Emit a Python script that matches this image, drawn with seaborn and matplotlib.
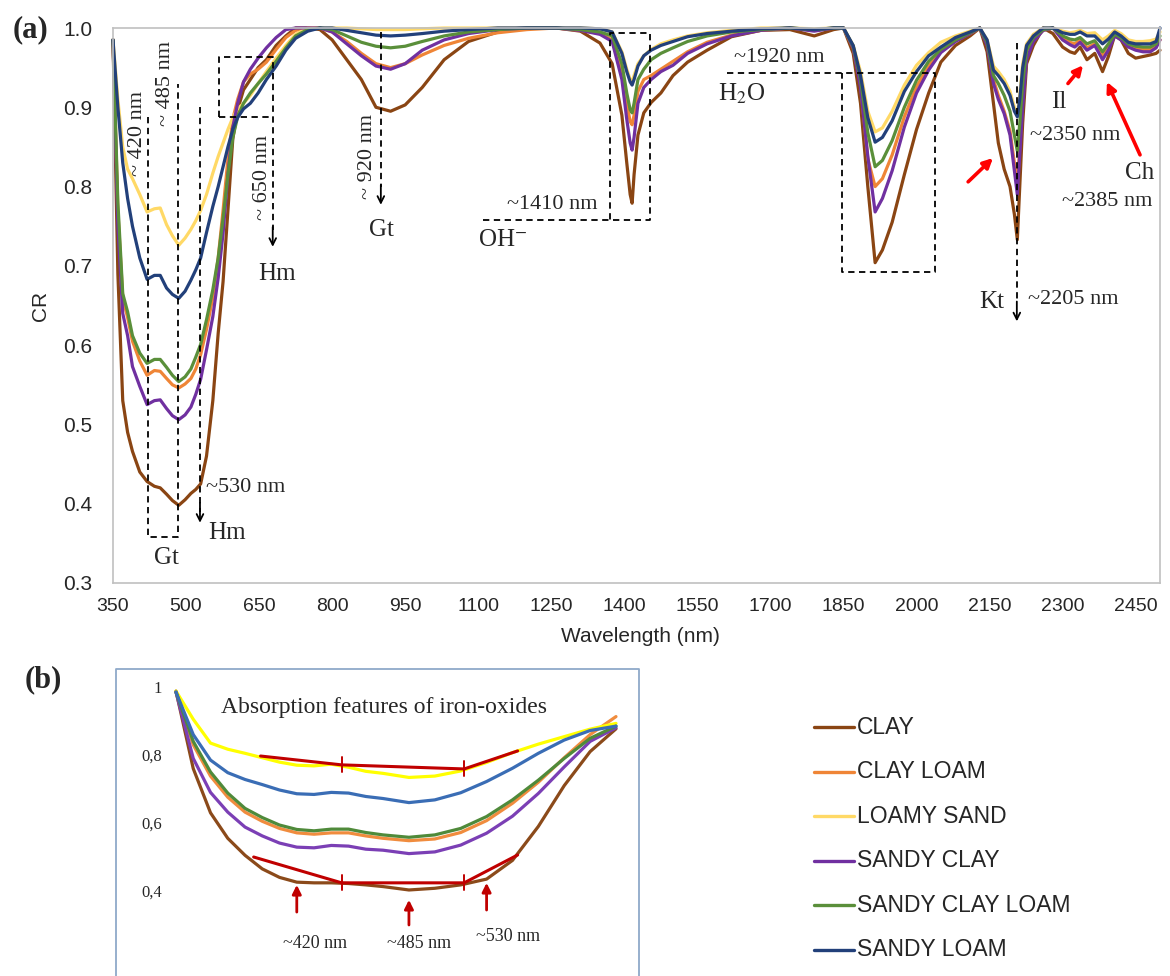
import matplotlib
matplotlib.use("Agg")
import matplotlib.pyplot as plt
import numpy as np
import pandas as pd
import seaborn as sns
from matplotlib.lines import Line2D

# ---------------- data ----------------
WL = [350, 360, 370, 380, 390, 405, 420, 435, 447, 460, 472, 485, 498, 510, 520, 530, 542, 555, 566, 576, 586, 596, 606, 618, 632, 648, 665, 685, 705, 725, 750,
      775, 800, 830, 860, 890, 920, 950, 985, 1030, 1080, 1140, 1200, 1260, 1310,
      1350, 1375, 1395, 1405, 1412, 1416, 1420, 1428, 1440, 1455, 1475, 1500, 1530, 1570, 1620, 1680,
      1740, 1790, 1830, 1850, 1870, 1885, 1900, 1915, 1930, 1950, 1975, 2000, 2025, 2050, 2080, 2110, 2130,
      2145, 2158, 2168, 2180, 2192, 2201, 2207, 2212, 2218, 2226, 2240, 2260, 2280,
      2300, 2315, 2325, 2336, 2350, 2366, 2382, 2394, 2407, 2420, 2435, 2450, 2465, 2480, 2492, 2500]

CLAY = [.985, .69, .53, .49, .466, .44, .428, .422, .42, .412, .404, .398, .405, .413, .418, .425, .46, .53, .615, .68, .77, .86, .897, .922, .935, .95, .96, .978, .99, 1.0, 1.0,
        .998, .985, .96, .935, .9, .895, .903, .925, .96, .983, .995, 1.0, 1.0, .996,
        .981, .955, .89, .83, .79, .779, .815, .865, .893, .906, .918, .94, .957, .972, .989, .997,
        .998, .99, .998, 1.0, .968, .905, .80, .704, .72, .755, .815, .872, .918, .957, .978, .99, 1.0,
        .97, .905, .855, .822, .80, .765, .733, .80, .88, .955, .978, 1.0, .993,
        .976, .97, .968, .976, .96, .968, .945, .964, .991, .985, .968, .962, .964, .966, .968, .972]
CLAY_LOAM = [.985, .77, .66, .635, .605, .58, .562, .568, .567, .558, .55, .546, .551, .558, .57, .588, .62, .66, .71, .77, .835, .885, .91, .932, .942, .948, .957, .973, .988, .997, 1.0,
             1.0, .995, .983, .968, .955, .95, .955, .966, .978, .987, .994, .998, 1.0, .997,
             .993, .985, .945, .905, .882, .878, .89, .92, .935, .94, .948, .958, .97, .982, .991, .997,
             1.0, .997, 1.0, 1.0, .975, .93, .835, .80, .81, .84, .888, .926, .952, .97, .984, .993, 1.0,
             .98, .935, .915, .895, .87, .83, .80, .85, .91, .965, .985, .997, 1.0,
             .988, .982, .98, .985, .975, .98, .965, .975, .992, .987, .978, .974, .973, .973, .977, .985]
LOAMY_SAND = [.985, .91, .85, .822, .81, .79, .768, .772, .773, .752, .738, .726, .735, .746, .757, .77, .79, .817, .838, .855, .872, .887, .898, .905, .915, .93, .945, .962, .978, .992, 1.0,
              1.0, 1.0, 1.0, .999, .998, .998, .998, .999, 1.0, 1.0, 1.0, 1.0, 1.0, 1.0,
              .999, .995, .97, .948, .935, .932, .94, .955, .965, .973, .98, .985, .99, .994, .997, 1.0,
              1.0, .999, 1.0, 1.0, .978, .945, .895, .869, .874, .895, .928, .953, .969, .982, .99, .996, 1.0,
              .985, .952, .945, .935, .92, .90, .89, .915, .955, .98, .992, 1.0, 1.0,
              .996, .994, .995, .997, .993, .994, .985, .99, .997, .993, .985, .983, .983, .984, .986, .995]
SANDY_CLAY = [.985, .75, .64, .612, .573, .548, .525, .53, .531, .52, .511, .506, .512, .522, .538, .557, .594, .636, .685, .741, .815, .875, .905, .932, .948, .962, .975, .988, .998, 1.0, 1.0,
              1.0, .995, .98, .965, .952, .948, .955, .972, .985, .993, .998, 1.0, 1.0, .997,
              .992, .983, .935, .885, .855, .846, .862, .905, .925, .935, .945, .953, .968, .98, .99, .997,
              1.0, .996, 1.0, 1.0, .975, .925, .838, .768, .785, .82, .875, .918, .947, .969, .983, .993, 1.0,
              .978, .93, .91, .892, .865, .82, .79, .84, .90, .96, .983, .997, 1.0,
              .985, .979, .976, .982, .972, .978, .96, .972, .99, .985, .976, .972, .97, .97, .975, .985]
SANDY_CLAY_LOAM = [.985, .78, .665, .642, .612, .59, .577, .582, .582, .572, .562, .554, .56, .57, .585, .601, .632, .67, .71, .76, .815, .862, .888, .905, .918, .93, .942, .958, .975, .99, .998,
                   1.0, .998, .99, .982, .977, .975, .977, .983, .99, .995, .998, 1.0, 1.0, .998,
                   .995, .99, .955, .918, .897, .893, .905, .935, .948, .96, .968, .975, .983, .99, .995, .998,
                   1.0, .998, 1.0, 1.0, .977, .935, .868, .825, .833, .858, .90, .934, .958, .973, .985, .994, 1.0,
                   .982, .94, .93, .915, .895, .865, .845, .88, .93, .972, .988, .998, 1.0,
                   .99, .986, .985, .988, .98, .984, .97, .98, .992, .988, .98, .977, .976, .976, .98, .99]
SANDY_LOAM = [.985, .90, .83, .785, .75, .71, .683, .688, .688, .672, .664, .659, .668, .682, .695, .71, .742, .775, .80, .825, .85, .872, .887, .898, .905, .918, .935, .952, .972, .987, .996,
              1.0, 1.0, .997, .994, .991, .99, .991, .993, .996, .998, 1.0, 1.0, 1.0, 1.0,
              .999, .995, .968, .945, .932, .928, .935, .952, .965, .972, .978, .983, .989, .993, .996, .999,
              1.0, .998, 1.0, 1.0, .978, .94, .887, .856, .862, .883, .92, .945, .965, .976, .988, .995, 1.0,
              .985, .947, .94, .93, .915, .895, .888, .91, .95, .978, .99, 1.0, 1.0,
              .994, .992, .992, .995, .99, .99, .98, .986, .995, .99, .982, .98, .98, .98, .983, 1.0]

SOILS = ["CLAY", "CLAY LOAM", "LOAMY SAND", "SANDY CLAY", "SANDY CLAY LOAM", "SANDY LOAM"]
MAIN_SERIES = [CLAY, CLAY_LOAM, LOAMY_SAND, SANDY_CLAY, SANDY_CLAY_LOAM, SANDY_LOAM]
MAIN_COLORS = ["#8a4513", "#ef8536", "#ffd966", "#7030a0", "#5a8f3a", "#22407a"]

# inset (b): zoom on the iron-oxide region
INSET_WL = [350, 360, 370, 380, 390, 400, 410, 420, 430, 440, 450, 460, 470, 485, 500, 515, 530, 545, 560, 575, 590, 605]
IN_CLAY = [.988, .76, .63, .555, .505, .465, .44, .426, .424, .424, .422, .418, .413, .403, .408, .418, .435, .49, .59, .71, .81, .877]
IN_CLAY_LOAM = [.985, .83, .738, .676, .632, .605, .584, .571, .567, .571, .571, .562, .555, .548, .553, .572, .607, .658, .72, .792, .86, .913]
IN_LOAMY_SAND = [.988, .905, .835, .817, .805, .792, .779, .77, .768, .773, .764, .752, .746, .734, .738, .753, .778, .807, .832, .854, .876, .893]
IN_SANDY_CLAY = [.985, .79, .69, .632, .588, .562, .541, .529, .527, .534, .532, .523, .52, .51, .515, .535, .57, .62, .687, .765, .84, .88]
IN_SANDY_CLAY_LOAM = [.985, .84, .75, .688, .643, .616, .594, .581, .577, .582, .582, .572, .565, .558, .565, .584, .619, .668, .726, .79, .849, .885]
IN_SANDY_LOAM = [.985, .86, .785, .748, .728, .713, .697, .686, .684, .69, .688, .678, .672, .66, .668, .689, .722, .761, .805, .844, .872, .885]
INSET_SERIES = [IN_CLAY, IN_CLAY_LOAM, IN_LOAMY_SAND, IN_SANDY_CLAY, IN_SANDY_CLAY_LOAM, IN_SANDY_LOAM]
INSET_COLORS = ["#8b4a1a", "#f08c3e", "#ffff00", "#7b3fb5", "#4f8a3a", "#3a6db5"]

RED_UPPER_X = [399, 446, 517, 548]
RED_UPPER_Y = [.797, .771, .759, .812]
RED_LOWER_X = [395, 446, 517, 548]
RED_LOWER_Y = [.50, .424, .424, .506]
INSET_FEATURES = [420, 485, 530]
INSET_FEATURE_LABELS = ["~420 nm", "~485 nm", "~530 nm"]

XTICKS = list(range(350, 2451, 150))
XMINOR = list(range(350, 2501, 250))
YTICKS = [0.3, 0.4, 0.5, 0.6, 0.7, 0.8, 0.9, 1.0]
INSET_YTICKS = [0.4, 0.6, 0.8, 1.0]
INSET_YLABELS = ["0,4", "0,6", "0,8", "1"]

for s in MAIN_SERIES:
    assert len(s) == len(WL)
for s in INSET_SERIES:
    assert len(s) == len(INSET_WL)

# ---------------- style ----------------
sns.set_style("white")
SANS = ["Liberation Sans", "DejaVu Sans"]
SERIF = ["Liberation Serif", "DejaVu Serif"]
plt.rcParams["font.family"] = SANS
plt.rcParams["mathtext.fontset"] = "stix"

W, H = 1170, 976
fig = plt.figure(figsize=(W / 100, H / 100), dpi=100)
fx = lambda x: x / W
fy = lambda y: 1 - y / H

# ---------------- panel (a) ----------------
ax = fig.add_axes([fx(113), fy(583), 1047 / W, 555 / H])
df = pd.DataFrame({
    "wl": np.tile(WL, len(SOILS)),
    "cr": np.concatenate(MAIN_SERIES),
    "soil": np.repeat(SOILS, len(WL)),
})
sns.lineplot(data=df, x="wl", y="cr", hue="soil", hue_order=SOILS,
             palette=dict(zip(SOILS, MAIN_COLORS)), linewidth=2.3,
             estimator=None, sort=False, legend=False, ax=ax)
for ln in ax.lines:
    ln.set_clip_on(False)
    ln.set_solid_joinstyle("round")

ax.set_xlim(350, 2500)
ax.set_ylim(0.3, 1.0)
ax.set_xticks(XTICKS)
ax.set_xticklabels([str(t) for t in XTICKS])
ax.set_xticks(XMINOR, minor=True)
ax.set_yticks(YTICKS)
ax.set_yticklabels([f"{t:.1f}" for t in YTICKS])
ax.tick_params(axis="x", which="major", length=0, pad=11, labelsize=14)
ax.tick_params(axis="x", which="minor", length=6, width=1.2, color="#bfbfbf", direction="out")
ax.tick_params(axis="y", which="major", length=0, pad=15, labelsize=15)
for sp in ax.spines.values():
    sp.set_color("#c0c0c0")
    sp.set_linewidth(1.2)
ax.set_xlabel("")
ax.set_ylabel("")
fig.text(fx(40), fy(306), "CR", rotation=90, ha="center", va="center", fontsize=15)
fig.text(fx(640), fy(636), "Wavelength (nm)", ha="center", va="center", fontsize=15)
fig.text(fx(31), fy(30), "(a)", ha="center", va="center", fontsize=22, fontweight="bold", family=SERIF)

DASH = dict(color="black", lw=1.3, linestyle=(0, (3.5, 2.5)))
ARROW = dict(arrowstyle="->", color="black", lw=1.3, shrinkA=0, shrinkB=0, mutation_scale=12)

def dline(xs, ys):
    ax.plot(xs, ys, clip_on=False, **DASH)

def darrow(x, tip):
    ax.annotate("", xy=(x, tip), xytext=(x, tip + 0.025), arrowprops=ARROW, annotation_clip=False)

# Gt box (~420 / ~485)
dline([422, 422, 483, 483], [.888, .358, .358, .93])
# ~530 Hm
dline([528.6, 528.6], [.90, .39])
darrow(528.6, .376)
# ~650 Hm box
dline([567.7, 567.7, 678, 678], [.888, .963, .963, .745])
dline([567.7, 678], [.888, .888])
darrow(678, .724)
# ~920 Gt
dline([900, 900], [.995, .80])
darrow(900, .777)
# OH box
dline([1110, 1453, 1453, 1370, 1370], [.758, .758, .994, .994, .758])
# H2O box
dline([1611, 2038, 2038, 1846, 1846], [.943, .943, .692, .692, .943])
# Kt
dline([2206, 2206], [.981, .655])
darrow(2206, .63)

def stext(x, y, s, size=16, rot=0):
    ax.text(x, y, s, ha="center", va="center", fontsize=size, rotation=rot, family=SERIF)

stext(401, .867, "~ 420 nm", rot=90)
stext(457, .93, "~ 485 nm", rot=90)
stext(658, .812, "~ 650 nm", rot=90)
stext(872, .838, "~ 920 nm", rot=90)
stext(687, .69, "Hm", 18)
stext(902, .745, "Gt", 18)
stext(623, .42, "~530 nm")
stext(584, .363, "Hm", 18)
stext(459, .332, "Gt", 18)
stext(1251, .777, "~1410 nm")
stext(1151, .733, "OH$^{-}$", 18)
stext(1641, .917, "H$_2$O", 18)
stext(1718, .963, "~1920 nm")
stext(2155, .655, "Kt", 18)
stext(2321, .657, "~2205 nm")
stext(2292, .907, "Il", 18)
stext(2325, .865, "~2350 nm")
stext(2459, .817, "Ch", 18)
stext(2391, .781, "~2385 nm")

RED = dict(arrowstyle="-|>", color="#ff0000", lw=2.6, shrinkA=0, shrinkB=0, mutation_scale=14)
ax.annotate("", xy=(2157, .836), xytext=(2106, .806), arrowprops=RED, annotation_clip=False)
ax.annotate("", xy=(2342, .953), xytext=(2311, .93), arrowprops=RED, annotation_clip=False)
ax.annotate("", xy=(2391, .932), xytext=(2459, .84), arrowprops=RED, annotation_clip=False)

# ---------------- panel (b) ----------------
fig.text(fx(43), fy(680), "(b)", ha="center", va="center", fontsize=22, fontweight="bold", family=SERIF)
fig.add_artist(Line2D([fx(116), fx(116), fx(639), fx(639)], [fy(990), fy(669), fy(669), fy(990)],
                      transform=fig.transFigure, color="#8fa9c9", lw=1.3))

ax2 = fig.add_axes([fx(176), fy(959), 440 / W, (959 - 680.2) / H])
ax2.set_facecolor("none")
dfi = pd.DataFrame({
    "wl": np.tile(INSET_WL, len(SOILS)),
    "cr": np.concatenate(INSET_SERIES),
    "soil": np.repeat(SOILS, len(INSET_WL)),
})
sns.lineplot(data=dfi, x="wl", y="cr", hue="soil", hue_order=SOILS,
             palette=dict(zip(SOILS, INSET_COLORS)), linewidth=2.3,
             estimator=None, sort=False, legend=False, ax=ax2)
for ln in ax2.lines:
    ln.set_clip_on(False)
    ln.set_solid_joinstyle("round")
    ln.set_solid_capstyle("round")
ax2.set_xlim(350, 605)
ax2.set_ylim(0.2, 1.02)
ax2.set_xticks([])
ax2.set_yticks(INSET_YTICKS)
ax2.set_yticklabels(INSET_YLABELS, family=SERIF)
ax2.tick_params(axis="y", length=0, pad=10, labelsize=12)
for sp in ax2.spines.values():
    sp.set_visible(False)
ax2.set_xlabel("")
ax2.set_ylabel("")

DRED = "#c00000"
ax2.plot(RED_UPPER_X, RED_UPPER_Y, color=DRED, lw=2.2, clip_on=False)
ax2.plot(RED_LOWER_X, RED_LOWER_Y, color=DRED, lw=2.2, clip_on=False)
for xs, ys in ((RED_UPPER_X, RED_UPPER_Y), (RED_LOWER_X, RED_LOWER_Y)):
    for xv, yv in zip(xs[1:3], ys[1:3]):
        ax2.plot([xv, xv], [yv - 0.022, yv + 0.022], color=DRED, lw=1.4, clip_on=False)

ARROW_TIPS = [.418, .374, .424]
ARROW_TAILS = [.338, .30, .344]
LABEL_POS = [(430.6, .247), (490.9, .247), (542.5, .265)]
for f, tip, tail, lab, (lx, ly) in zip(INSET_FEATURES, ARROW_TIPS, ARROW_TAILS, INSET_FEATURE_LABELS, LABEL_POS):
    ax2.annotate("", xy=(f, tip), xytext=(f, tail),
                 arrowprops=dict(arrowstyle="-|>", color=DRED, lw=2.0, shrinkA=0, shrinkB=0, mutation_scale=13),
                 annotation_clip=False)
    ax2.text(lx, ly, lab, ha="center", va="center", fontsize=13, family=SERIF)

fig.text(fx(384), fy(707), "Absorption features of iron-oxides", ha="center", va="center",
         fontsize=17, family=SERIF)

# legend
for i, (soil, col) in enumerate(zip(SOILS, MAIN_COLORS)):
    yy = 727 + i * 44.6
    fig.add_artist(Line2D([fx(814), fx(854)], [fy(yy), fy(yy)], transform=fig.transFigure,
                          color=col, lw=2.4))
    fig.text(fx(857), fy(yy), soil, ha="left", va="center", fontsize=16.5)

fig.savefig("out.png", dpi=100, facecolor="white")
